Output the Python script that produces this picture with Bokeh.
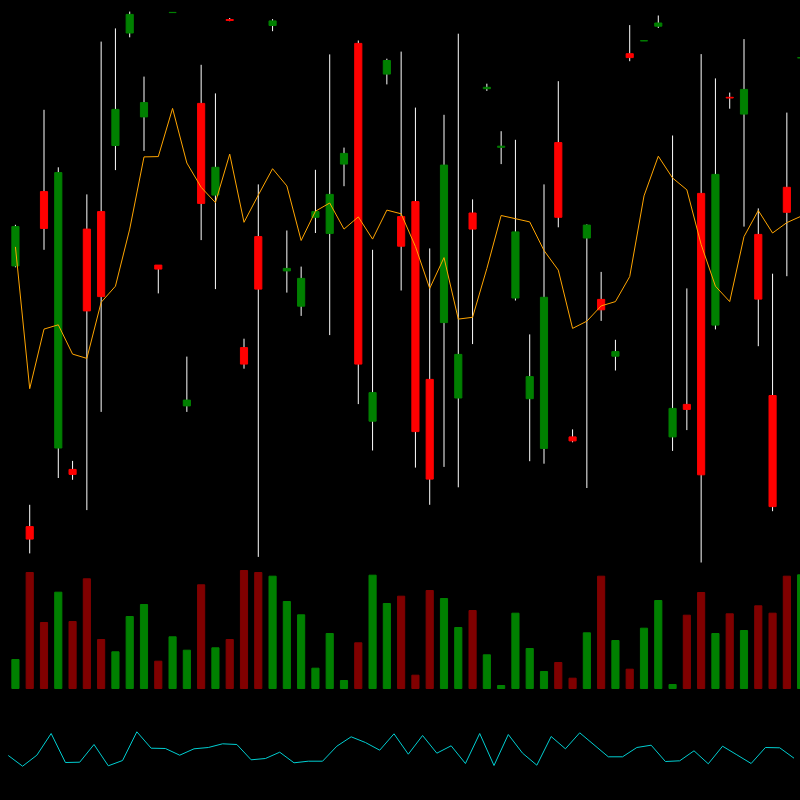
from bokeh.plotting import figure
from bokeh.models import ColumnDataSource, Range1d
from bokeh.embed import file_html
from bokeh.resources import INLINE

# ---- data ----
opens = [96.92, 44.78, 111.78, 60.5, 56.22, 104.28, 107.78, 121.0, 143.5, 126.72,
         97.08, 147.58, 68.92, 129.42, 111.08, 146.2, 80.58, 102.78, 145.0, 95.92,
         88.86, 106.64, 103.42, 117.28, 141.42, 65.86, 135.28, 106.78, 109.78, 74.22,
         85.58, 70.5, 107.5, 132.36, 120.64, 90.5, 70.36, 60.42, 121.58, 62.72,
         102.5, 90.22, 78.86, 139.36, 141.92, 144.86, 62.72, 69.22, 111.42, 85.08,
         130.64, 127.28, 103.22, 71.0, 112.64, 138.52]
highs = [105.14, 49.14, 128.14, 116.64, 57.92, 111.22, 141.78, 144.42, 147.78, 134.78,
         97.08, 147.64, 78.78, 137.14, 131.42, 146.5, 82.36, 113.22, 146.28, 104.0,
         96.78, 116.14, 139.22, 120.58, 142.0, 100.14, 138.36, 139.78, 128.58, 100.42,
         127.14, 143.36, 110.22, 133.36, 123.86, 122.14, 83.22, 113.22, 133.86, 64.22,
         105.22, 95.72, 82.14, 145.08, 141.98, 147.0, 123.0, 92.42, 139.28, 134.42,
         131.58, 142.28, 108.42, 95.36, 127.58, 138.58]
lows = [96.64, 39.42, 100.14, 54.5, 54.14, 48.08, 67.72, 116.08, 142.64, 119.92,
        91.42, 147.56, 67.72, 102.08, 92.28, 145.86, 76.36, 38.72, 143.86, 91.58,
        86.92, 103.5, 83.08, 112.86, 69.28, 60.0, 133.22, 92.0, 56.58, 49.14,
        56.72, 52.64, 81.28, 131.92, 117.28, 90.0, 57.86, 57.36, 104.64, 61.64,
        52.5, 85.92, 76.0, 137.86, 141.9, 144.5, 59.92, 64.08, 37.6, 84.22,
        128.36, 104.78, 80.86, 47.86, 94.86, 138.5]
closes = [104.78, 42.28, 104.42, 115.58, 55.22, 87.92, 90.78, 128.22, 147.22, 129.58,
          96.28, 147.62, 70.08, 109.42, 116.64, 146.0, 77.28, 92.28, 145.92, 96.42,
          94.42, 107.78, 111.22, 119.42, 77.28, 71.58, 138.0, 100.86, 63.78, 54.28,
          117.08, 79.22, 104.28, 132.64, 120.86, 103.72, 74.78, 90.64, 106.64, 61.92,
          105.08, 88.14, 79.78, 138.58, 141.96, 145.5, 68.42, 68.22, 55.14, 115.22,
          130.5, 132.22, 90.28, 48.78, 107.64, 138.56]
ma = [100.72, 72.36, 84.28, 85.14, 79.28, 78.42, 89.64, 92.86, 104.28, 118.72,
      118.78, 128.42, 117.5, 112.64, 109.58, 119.28, 105.64, 111.08, 116.36, 112.92,
      102.0, 107.86, 109.5, 104.28, 106.72, 102.28, 108.08, 107.34, 100.8, 92.42,
      98.58, 86.28, 86.64, 96.4, 107.0, 106.36, 105.72, 100.0, 96.08, 84.42,
      85.86, 88.92, 89.78, 94.78, 110.92, 118.86, 114.5, 112.14, 101.2, 92.86,
      89.78, 102.78, 108.0, 103.5, 105.58, 106.86]
volume = [2900, 11600, 6600, 9630, 6700, 10970, 4900, 3670, 7200, 8400,
          2730, 5170, 3830, 10370, 4070, 4900, 11800, 11600, 11230, 8700,
          7370, 2030, 5500, 800, 4570, 11330, 8500, 9230, 1330, 9800,
          9000, 6100, 7800, 3370, 300, 7530, 4000, 1700, 2600, 1030,
          5570, 11230, 4800, 1930, 6030, 8800, 400, 7330, 9600, 5500,
          7470, 5800, 8270, 7530, 11230, 11370]
osc = [45, 34.3, 45.3, 67, 38, 38.3, 56, 34.7, 40, 68.7,
       52.3, 52, 45.3, 51.7, 53, 56.7, 56, 40.7, 42, 48.3,
       37.7, 39.3, 39.3, 54.3, 63.7, 58, 50.3, 66.7, 46.3, 65,
       47.3, 54.7, 37, 67, 35, 66, 47.3, 35.3, 64, 51.7,
       67.7, 55.7, 43.7, 43.7, 53, 55.3, 39, 39.7, 49.7, 36.7,
       54.3, 45.7, 37, 53, 52.7, 42.3]

n = len(opens)
idx = list(range(n))
is_up = [c >= o for o, c in zip(opens, closes)]

candles = ColumnDataSource(dict(
    x=idx,
    high=highs,
    low=lows,
    top=[max(o, c) for o, c in zip(opens, closes)],
    bottom=[min(o, c) for o, c in zip(opens, closes)],
    color=["#008000" if u else "#ff0000" for u in is_up],
    vcolor=["#008000" if u else "#800000" for u in is_up],
    vol=volume,
    ma=ma,
))
osc_src = ColumnDataSource(dict(x=[i - 0.5 for i in idx], y=osc))

p = figure(width=800, height=800, output_backend="svg", toolbar_location=None,
           x_range=Range1d(-1.045, 54.955), y_range=Range1d(-10, 150),
           background_fill_color="black", border_fill_color="black",
           min_border=0, outline_line_color=None)
p.extra_y_ranges = {"vol": Range1d(-11200, 68800), "osc": Range1d(0, 800)}
p.axis.visible = False
p.grid.visible = False

p.segment(x0="x", y0="low", x1="x", y1="high", source=candles,
          line_color="white", line_width=1)
p.vbar(x="x", width=0.5, top="top", bottom="bottom", source=candles,
       fill_color="color", line_color="color", line_width=1)
p.line(x="x", y="ma", source=candles, line_color="#ffa500", line_width=1)
p.vbar(x="x", width=0.5, top="vol", bottom=0, source=candles, y_range_name="vol",
       fill_color="vcolor", line_color="vcolor", line_width=1)
p.line(x="x", y="y", source=osc_src, y_range_name="osc",
       line_color="#00ced1", line_width=1)

html = file_html(p, INLINE, title="Candlestick chart")
html = html.replace("</head>",
                    "<style>html, body { margin: 0 !important; padding: 0 !important; "
                    "background: #000000; overflow: hidden; }</style></head>", 1)
open("out.html", "w").write(html)
